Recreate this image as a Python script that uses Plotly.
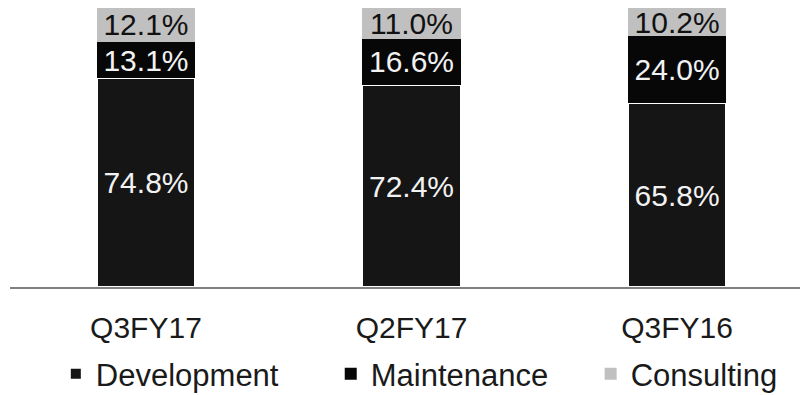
import plotly.graph_objects as go

# Revenue mix by service line (% of revenue)
quarters = ["Q3FY17", "Q2FY17", "Q3FY16"]
development = [74.8, 72.4, 65.8]
maintenance = [13.1, 16.6, 24.0]
consulting = [12.1, 11.0, 10.2]

FONT = "Liberation Sans, Arial, sans-serif"


def pct(values):
    return [f"{v:.1f}%" for v in values]


fig = go.Figure()
fig.add_trace(go.Bar(
    name="Development", x=quarters, y=development, text=pct(development),
    marker=dict(color="#151515", line=dict(color="#ffffff", width=2)),
    textfont=dict(color="#f2f2f2", size=30, family=FONT),
    legend="legend",
))
fig.add_trace(go.Bar(
    name="Maintenance", x=quarters, y=maintenance, text=pct(maintenance),
    marker=dict(color="#070707", line=dict(width=0)),
    textfont=dict(color="#f2f2f2", size=30, family=FONT),
    legend="legend2",
))
fig.add_trace(go.Bar(
    name="Consulting", x=quarters, y=consulting, text=pct(consulting),
    marker=dict(color="#c0c0c0", line=dict(width=0)),
    textfont=dict(color="#111111", size=30, family=FONT),
    legend="legend3",
))

fig.update_traces(textposition="inside", insidetextanchor="middle",
                  constraintext="none", width=0.37)

legend_style = dict(
    orientation="h", xanchor="left", yref="container", y=0.053, yanchor="middle",
    font=dict(size=31, family=FONT, color="#1a1a1a"),
    bgcolor="rgba(0,0,0,0)",
)

fig.update_layout(
    width=800, height=395,
    barmode="stack",
    paper_bgcolor="white", plot_bgcolor="white",
    margin=dict(l=10, r=0, t=8, b=108),
    font=dict(family=FONT, size=30, color="#1a1a1a"),
    xaxis=dict(
        range=[-0.512, 2.463], showline=True, linecolor="#808080", linewidth=2,
        ticks="", showgrid=False, zeroline=False, ticklabelstandoff=13,
        tickfont=dict(size=30, family=FONT, color="#1a1a1a"),
    ),
    yaxis=dict(range=[0, 100], visible=False),
    showlegend=True,
    legend=dict(x=0.058, **legend_style),
    legend2=dict(x=0.406, **legend_style),
    legend3=dict(x=0.735, **legend_style),
)

fig.write_html("out.html")
